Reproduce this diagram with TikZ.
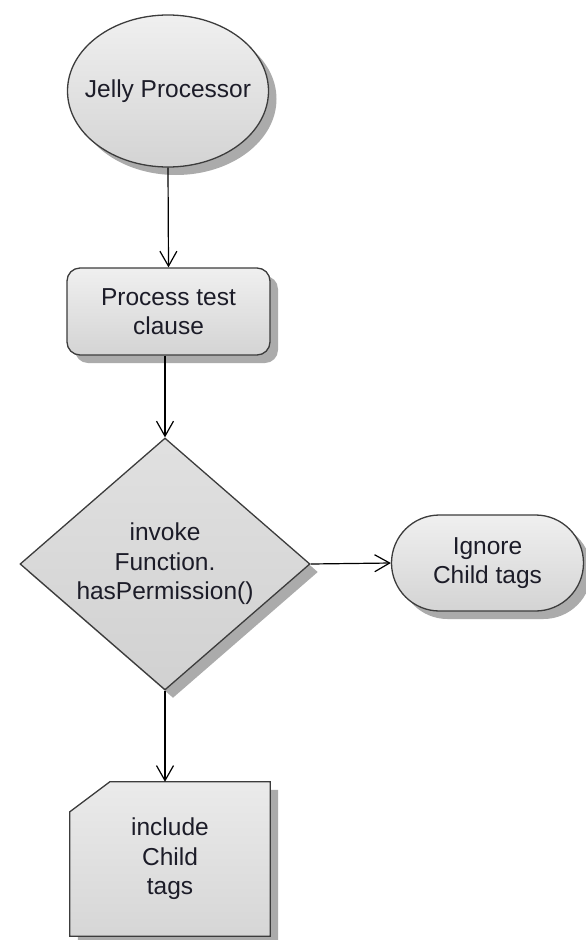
\documentclass[tikz,border=0pt]{standalone}
\usepackage{fontspec}
\setmainfont{Liberation Sans}
\usetikzlibrary{shapes.geometric,shapes.misc,shadows,arrows.meta,backgrounds}

\definecolor{edgegray}{HTML}{3C3C3C}
\definecolor{shadowgray}{HTML}{ABABAB}
\definecolor{inkcolor}{HTML}{1C1C28}

\tikzset{
  boxlook/.style={draw=edgegray, line width=1.3pt,
    top color=white!94!black, bottom color=white!83!black,
    drop shadow={shadow xshift=8pt, shadow yshift=-8pt, fill=shadowgray, opacity=1}},
  boxtext/.style={inner sep=0pt, align=center, text=inkcolor,
    font=\fontsize{24.5}{29.5}\selectfont},
  box/.style={boxlook, boxtext},
  flowarrow/.style={draw=black, line width=1.2pt,
    -{Straight Barb[length=15pt, width=17pt, line width=1.2pt]}}
}

\begin{document}
\begin{tikzpicture}[x=1pt, y=1pt]
  \useasboundingbox (0,0) rectangle (586,-940);

  % start node
  \node[box, ellipse, inner xsep=-16pt, minimum width=201pt, minimum height=152pt]
    (start) at (168,-91) {Jelly Processor};

  % process step
  \node[box, rectangle, rounded corners=13pt, minimum width=203pt, minimum height=87pt]
    (proc) at (168.5,-311.5) {Process test\\clause};

  % decision
  \node[box, diamond, aspect=1.15, minimum width=290pt, minimum height=252pt,
        top color=white!88!black, bottom color=white!82!black]
    (dec) at (165,-564) {invoke\\Function.\\hasPermission()};

  % terminal on the right
  \node[box, rounded rectangle, minimum width=192pt, minimum height=96pt]
    (ignore) at (487.5,-563) {Ignore\\Child tags};

  % card-shaped output: text node, outline with cut top-left corner behind it
  \node[boxtext, rectangle, minimum width=200pt, minimum height=154pt]
    (incl) at (170,-859) {include\\Child\\tags};
  \begin{scope}[on background layer]
    \path[boxlook, top color=white!92!black, bottom color=white!84!black]
      ([yshift=-30pt]incl.north west) -- ([xshift=40pt]incl.north west)
      -- (incl.north east) -- (incl.south east) -- (incl.south west) -- cycle;
  \end{scope}

  % connectors
  \draw[flowarrow] (start.south) -- (proc.north);
  \draw[flowarrow] (proc.south -| dec.north) -- (dec.north);
  \draw[flowarrow] (dec.east) -- (ignore.west);
  \draw[flowarrow] (dec.south) -- (dec.south |- incl.north);
\end{tikzpicture}
\end{document}
